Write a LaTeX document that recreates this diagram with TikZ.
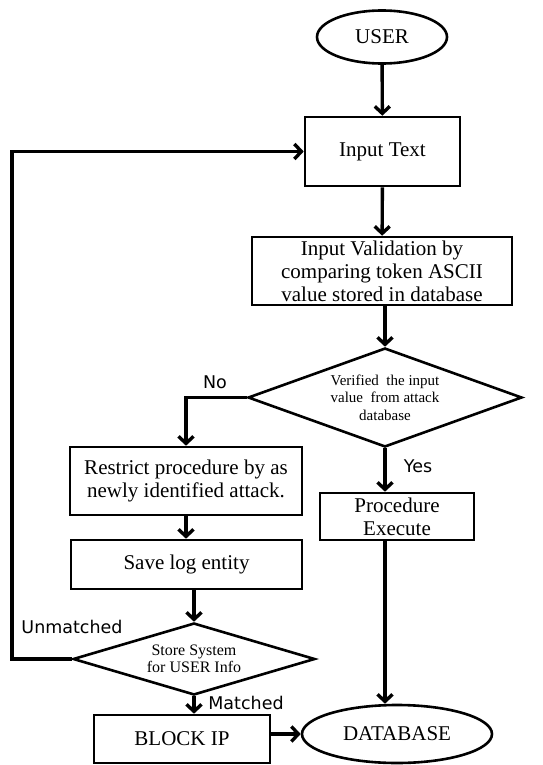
\documentclass[tikz,border=0pt]{standalone}
\usepackage{fontspec}
\setmainfont{Liberation Serif}
\newfontfamily\labelfont{DejaVu Sans}
\usetikzlibrary{shapes.geometric,arrows.meta}

\tikzset{
  shapeline/.style={draw=black, line width=2.6pt, fill=white},
  procbox/.style={shapeline, rectangle, align=center, inner sep=0pt,
    font=\fontsize{21}{23}\selectfont},
  termnode/.style={shapeline, ellipse, inner sep=0pt,
    font=\fontsize{21}{23}\selectfont},
  decision/.style={shapeline, diamond, align=center, inner sep=0pt},
  flow/.style={line width=3.4pt, -{Straight Barb[length=7pt,width=15pt,line width=3.4pt]}},
  branchlabel/.style={font=\labelfont\fontsize{17.5}{19}\selectfont, inner sep=0pt}
}

\begin{document}
\begin{tikzpicture}[x=1pt,y=-1pt]
  \useasboundingbox (0,0) rectangle (542,765);

  % terminals
  \node[termnode, minimum width=130pt, minimum height=53pt] (user) at (382,37) {USER};
  \node[termnode, minimum width=190pt, minimum height=58pt] (db) at (397,734) {DATABASE};

  % main column
  \node[procbox, minimum width=155pt, minimum height=69pt] (input) at (382.5,151.5) {Input Text};
  \node[procbox, minimum width=260pt, minimum height=68pt] (valid) at (382,271)
    {Input Validation by\\comparing token ASCII\\value stored in database};
  \node[decision, minimum width=274pt, minimum height=99pt, aspect=2.77,
        font=\fontsize{15}{17.5}\selectfont] (verify) at (385,397.5)
    {Verified\ \ the input\\value\ \ from attack\\database};
  \node[procbox, minimum width=154pt, minimum height=47pt] (proc) at (397,516.5)
    {Procedure\\Execute};

  % attack branch
  \node[procbox, minimum width=232pt, minimum height=68pt] (restrict) at (186,481)
    {Restrict procedure by as\\newly identified attack.};
  \node[procbox, minimum width=231pt, minimum height=49pt] (save) at (186.5,564.5)
    {Save log entity};
  \node[decision, minimum width=242pt, minimum height=72pt, aspect=3.36,
        font=\fontsize{16}{16.7}\selectfont] (store) at (194,659)
    {Store System\\for USER Info};
  \node[procbox, minimum width=176pt, minimum height=48pt] (block) at (182,739)
    {BLOCK IP};

  \coordinate (loop) at (12,400);

  % connectors
  \draw[flow] (user) -- (input);
  \draw[flow] (input) -- (valid);
  \draw[flow] (verify.north |- valid.south) -- (verify.north);
  \draw[flow] (verify.west) -| (restrict.north);
  \draw[flow] (verify.south) -- (verify.south |- proc.north);
  \draw[flow] (verify.south |- proc.south) -- (verify.south |- db.north);
  \draw[flow] (restrict.south) -- (restrict.south |- save.north);
  \draw[flow] (store.north |- save.south) -- (store.north);
  \draw[flow] (store.west) -- (store.west -| loop) |- (input.west);
  \draw[flow] (store.south) -- (store.south |- block.north);
  \draw[flow] (block.east |- db.west) -- (db.west);

  % branch labels
  \node[branchlabel] (lno) at (215,382) {No};
  \node[branchlabel] (lyes) at (418,466) {Yes};
  \node[branchlabel] (lunm) at (72,627) {Unmatched};
  \node[branchlabel] (lmat) at (246,703) {Matched};
\end{tikzpicture}
\end{document}
